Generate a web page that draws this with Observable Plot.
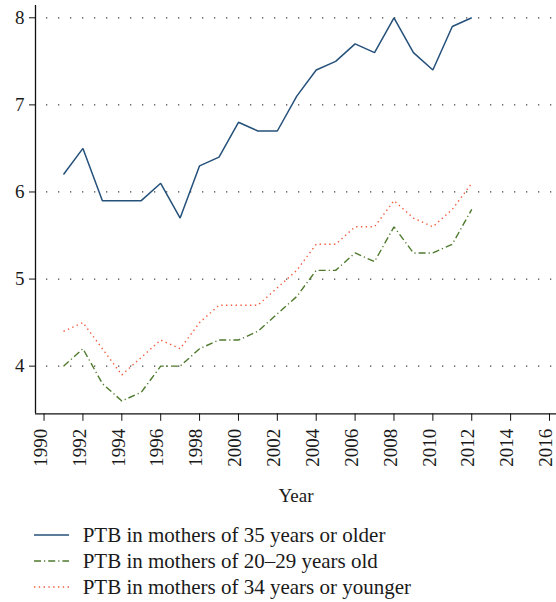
<!DOCTYPE html>
<html><head><meta charset="utf-8">
<script src="https://cdn.jsdelivr.net/npm/d3@7"></script>
<script src="https://cdn.jsdelivr.net/npm/@observablehq/plot@0.6"></script>
<style>
body{margin:0;background:#fff;font-family:"Liberation Serif",serif;color:#1a1a1a}
#legend{padding-top:7px}
.row{display:flex;align-items:center;height:26px;line-height:26px;font-size:21px}
.row svg{margin-left:34px;margin-right:13.7px}
</style></head><body><div id="chart"></div><div id="legend"></div>
<script>
const years = [1991,1992,1993,1994,1995,1996,1997,1998,1999,2000,2001,2002,2003,2004,2005,2006,2007,2008,2009,2010,2011,2012];
const older35   = [6.2,6.5,5.9,5.9,5.9,6.1,5.7,6.3,6.4,6.8,6.7,6.7,7.1,7.4,7.5,7.7,7.6,8.0,7.6,7.4,7.9,8.0];
const age20to29 = [4.0,4.2,3.8,3.6,3.7,4.0,4.0,4.2,4.3,4.3,4.4,4.6,4.8,5.1,5.1,5.3,5.2,5.6,5.3,5.3,5.4,5.8];
const younger34 = [4.4,4.5,4.2,3.9,4.1,4.3,4.2,4.5,4.7,4.7,4.7,4.9,5.1,5.4,5.4,5.6,5.6,5.9,5.7,5.6,5.8,6.1];
const seriesNames = ["PTB in mothers of 35 years or older","PTB in mothers of 20\u201329 years old","PTB in mothers of 34 years or younger"];
const seriesColors = ["#24507a","#4f7a2e","#f25c3c"];
const seriesDash = [null,"7,3,1.2,3","1.4,3.4"];
const seriesWidth = [1.5,1.4,1.4];
const xTicks = [1990,1992,1994,1996,1998,2000,2002,2004,2006,2008,2010,2012,2014,2016];
const yTicks = [4,5,6,7,8];

const seriesValues = [older35, age20to29, younger34];
const xMin = 1989.56, xMax = 2016.36, yMin = 3.453, yMax = 8.141;

const lineMarks = seriesValues.map((vals, i) =>
  Plot.line(years.map((y, j) => ({year: y, value: vals[j]})), {
    x: "year", y: "value", stroke: seriesColors[i], strokeWidth: seriesWidth[i],
    strokeDasharray: seriesDash[i] || undefined, strokeLinejoin: "miter", strokeLinecap: "butt"
  })
);

const plot = Plot.plot({
  width: 556, height: 515, marginLeft: 35, marginRight: 0, marginTop: 5, marginBottom: 101.7,
  style: {fontFamily: "Liberation Serif, serif", fontSize: "19px", color: "#1a1a1a", background: "#fff"},
  x: {domain: [xMin, xMax]},
  y: {domain: [yMin, yMax]},
  marks: [
    Plot.gridY(yTicks, {stroke: "#444", strokeOpacity: 1, strokeWidth: 1.3, strokeDasharray: "1.3,10.7", strokeDashoffset: 1}),
    Plot.axisY(yTicks, {tickSize: 6, tickPadding: 5, tickFormat: d => String(d), label: null, stroke: "#111"}),
    Plot.axisX(xTicks, {tickSize: 7.5, tickFormat: () => "", stroke: "#111",
      label: "Year", labelAnchor: "center", labelArrow: "none", labelOffset: 88}),
    Plot.text(xTicks, {x: d => d, text: d => String(d), frameAnchor: "bottom", rotate: -90,
      textAnchor: "end", lineAnchor: "middle", dy: 15, dx: -3.4, fontSize: 19, fill: "#1a1a1a"}),
    Plot.ruleX([xMin], {stroke: "#111", strokeWidth: 1.3}),
    Plot.ruleY([yMin], {stroke: "#111", strokeWidth: 1.3}),
    ...lineMarks
  ]
});
document.getElementById("chart").append(plot);

const legend = d3.select("#legend");
seriesNames.forEach((name, i) => {
  const row = legend.append("div").attr("class", "row");
  const svg = row.append("svg").attr("width", 35).attr("height", 10);
  svg.append("line").attr("x1", 0).attr("x2", 35).attr("y1", 5).attr("y2", 5)
    .attr("stroke", seriesColors[i]).attr("stroke-width", seriesWidth[i])
    .attr("stroke-dasharray", seriesDash[i]);
  row.append("span").text(name);
});
</script></body></html>
